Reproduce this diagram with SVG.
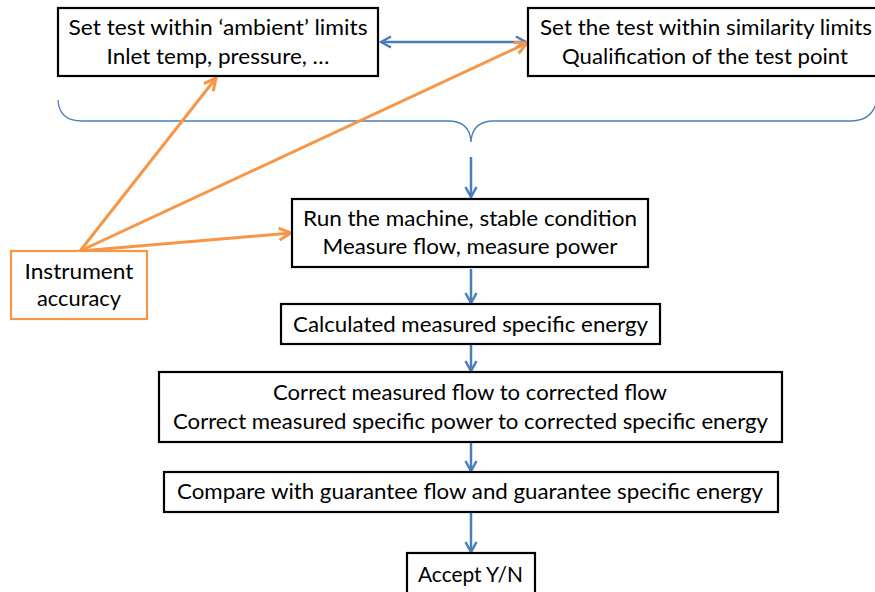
<svg xmlns="http://www.w3.org/2000/svg" width="875" height="592" viewBox="0 0 875 592">
<style>
.box{fill:#fff;stroke:#000;stroke-width:2.2}
.obox{fill:#fff;stroke:#f79646;stroke-width:2.2}
text{font-family:Lato,"Liberation Sans",Arial,sans-serif;font-size:20.5px;fill:#000;text-anchor:middle}
.b{stroke:#4a7ebb;stroke-width:2.5;fill:none}
.o{stroke:#f79646;stroke-width:3;fill:none}
.brace{stroke:#4a7ebb;stroke-width:1.3;fill:none}
</style>
<defs>
<marker id="ab" viewBox="0 0 14 14" refX="12" refY="7" markerWidth="14" markerHeight="14" markerUnits="userSpaceOnUse" orient="auto-start-reverse">
<path d="M2,1.5 L12,7 L2,12.5" fill="none" stroke="#4a7ebb" stroke-width="2.5"/>
</marker>
<marker id="ao" viewBox="0 0 16 16" refX="14" refY="8" markerWidth="16" markerHeight="16" markerUnits="userSpaceOnUse" orient="auto">
<path d="M2,2 L14,8 L2,14" fill="none" stroke="#f79646" stroke-width="3"/>
</marker>
</defs>
<g id="connectors">
<path class="brace" d="M58,100 Q59,121 82,121 L450,121 Q470,122 471,142 Q472,122 492,121 L852,121 Q873,120 877,100"/>
<line class="b" x1="381" y1="42" x2="526" y2="42" marker-start="url(#ab)" marker-end="url(#ab)"/>
<line class="b" x1="471" y1="157" x2="471" y2="197" marker-end="url(#ab)"/>
<line class="b" x1="471" y1="269" x2="471" y2="303" marker-end="url(#ab)"/>
<line class="b" x1="471" y1="345" x2="471" y2="371" marker-end="url(#ab)"/>
<line class="b" x1="471" y1="443" x2="471" y2="471" marker-end="url(#ab)"/>
<line class="b" x1="471" y1="513" x2="471" y2="552" marker-end="url(#ab)"/>
<line class="o" x1="80" y1="251" x2="216" y2="78" marker-end="url(#ao)"/>
<line class="o" x1="80" y1="251" x2="527" y2="43" marker-end="url(#ao)"/>
<line class="o" x1="80" y1="251" x2="291" y2="233" marker-end="url(#ao)"/>
</g>
<g id="n1">
<rect class="box" x="58" y="8" width="320" height="68"/>
<text x="218" y="35" textLength="299" lengthAdjust="spacingAndGlyphs">Set test within ‘ambient’ limits</text>
<text x="218" y="64" textLength="223" lengthAdjust="spacingAndGlyphs">Inlet temp, pressure, …</text>
</g>
<g id="n2">
<rect class="box" x="528" y="8" width="356" height="68"/>
<text x="706" y="35" textLength="332" lengthAdjust="spacingAndGlyphs">Set the test within similarity limits</text>
<text x="705" y="64" textLength="286" lengthAdjust="spacingAndGlyphs">Qualification of the test point</text>
</g>
<g id="n3">
<rect class="box" x="292" y="199" width="356" height="68"/>
<text x="470" y="226" textLength="334" lengthAdjust="spacingAndGlyphs">Run the machine, stable condition</text>
<text x="470" y="254" textLength="295" lengthAdjust="spacingAndGlyphs">Measure flow, measure power</text>
</g>
<g id="n4">
<rect class="obox" x="11" y="251" width="136" height="68"/>
<text x="79" y="279" textLength="109" lengthAdjust="spacingAndGlyphs">Instrument</text>
<text x="79" y="306" textLength="84" lengthAdjust="spacingAndGlyphs">accuracy</text>
</g>
<g id="n5">
<rect class="box" x="281" y="304" width="379" height="40"/>
<text x="470.5" y="332" textLength="355" lengthAdjust="spacingAndGlyphs">Calculated measured specific energy</text>
</g>
<g id="n6">
<rect class="box" x="159" y="372" width="623" height="70"/>
<text x="470" y="400" textLength="394" lengthAdjust="spacingAndGlyphs">Correct measured flow to corrected flow</text>
<text x="470.5" y="429" textLength="595" lengthAdjust="spacingAndGlyphs">Correct measured specific power to corrected specific energy</text>
</g>
<g id="n7">
<rect class="box" x="164" y="472" width="614" height="40"/>
<text x="470" y="499" textLength="586" lengthAdjust="spacingAndGlyphs">Compare with guarantee flow and guarantee specific energy</text>
</g>
<g id="n8">
<rect class="box" x="407" y="553" width="128" height="44"/>
<text x="470.5" y="582" textLength="105" lengthAdjust="spacingAndGlyphs">Accept Y/N</text>
</g>
</svg>
